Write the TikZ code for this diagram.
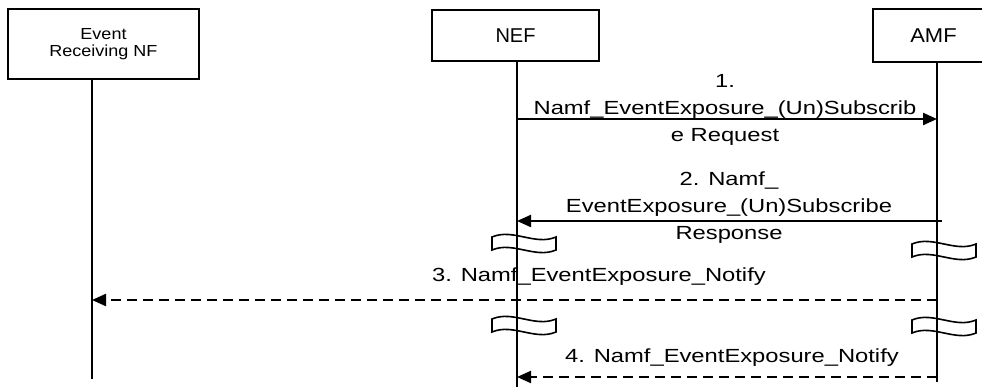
\documentclass[tikz,border=0pt]{standalone}
\usepackage{fontspec}
\setmainfont{Liberation Sans}
\usetikzlibrary{arrows.meta}
\newcommand{\sx}[2][1.25]{\scalebox{#1}[1]{#2}}
\begin{document}
\begin{tikzpicture}[x=1pt,y=-1pt,
  entity/.style={draw, line width=1.8pt, inner sep=0pt, align=center},
  life/.style={line width=2pt},
  msg/.style={line width=2.2pt, -{Triangle[length=14pt,width=12pt]}},
  msgd/.style={msg, dash pattern=on 10pt off 6pt},
  lbl/.style={inner sep=0pt, align=center, font=\fontsize{19}{27}\selectfont},
  brk/.pic={\draw[line width=1.6pt] (0,0) .. controls (21,-9) and (43,9) .. (64,0)
      -- (64,13) .. controls (43,22) and (21,4) .. (0,13) -- cycle;}
]
\useasboundingbox (0,0) rectangle (982,387);
\clip (0,0) rectangle (982,387);

% entities
\node[entity, minimum width=191pt, minimum height=70pt, font=\fontsize{16}{17.5}\selectfont]
  (ernf) at (103.5,44) {\sx[1.125]{Event}\\\sx[1.125]{Receiving NF}};
\node[entity, minimum width=167pt, minimum height=51pt, font=\fontsize{20}{24}\selectfont]
  (nef) at (515.5,35.5) {NEF};
\node[entity, minimum width=121pt, minimum height=53pt, font=\fontsize{20}{24}\selectfont]
  (amf) at (933.5,35.5) {\sx[1.1]{AMF}};

% lifeline ends
\coordinate (ernfEnd) at (92,379);
\coordinate (nefEnd) at (517,387);
\coordinate (amfEnd) at (937,382);
\coordinate (ernfTop) at (92,79);
\coordinate (nefTop) at (517,61);
\coordinate (amfTop) at (937,62);

% breaks
\pic at (492,237) {brk};
\pic at (912,244) {brk};
\pic at (492,319) {brk};
\pic at (912,320) {brk};

% lifelines
\draw[life] (ernfTop) -- (ernfEnd);
\draw[life] (nefTop) -- (nefEnd);
\draw[life] (amfTop) -- (amfEnd);

% message points
\coordinate (n1) at (517,119); \coordinate (a1) at (937,119);
\coordinate (a2) at (942,221); \coordinate (n2) at (517,221);
\coordinate (a3) at (937,300); \coordinate (e3) at (92,300);
\coordinate (a4) at (937,377); \coordinate (n4) at (517,377);

\draw[msg] (n1) -- (a1);
\draw[msg] (a2) -- (n2);
\draw[msgd] (a3) -- (e3);
\draw[msgd] (a4) -- (n4);

% labels (base anchor = baseline of last line)
\node[lbl, anchor=base] (l1) at (725,142)
  {\sx{1.}\\\sx{Namf\_EventExposure\_(Un)Subscrib}\\\sx{e Request}};
\node[lbl, anchor=base] (l2) at (729,240)
  {\sx{2. Namf\_}\\\sx{EventExposure\_(Un)Subscribe}\\\sx{Response}};
\node[lbl, anchor=base] (l3) at (599,282) {\sx{3. Namf\_EventExposure\_Notify}};
\node[lbl, anchor=base] (l4) at (732,362) {\sx{4. Namf\_EventExposure\_Notify}};
\end{tikzpicture}
\end{document}
